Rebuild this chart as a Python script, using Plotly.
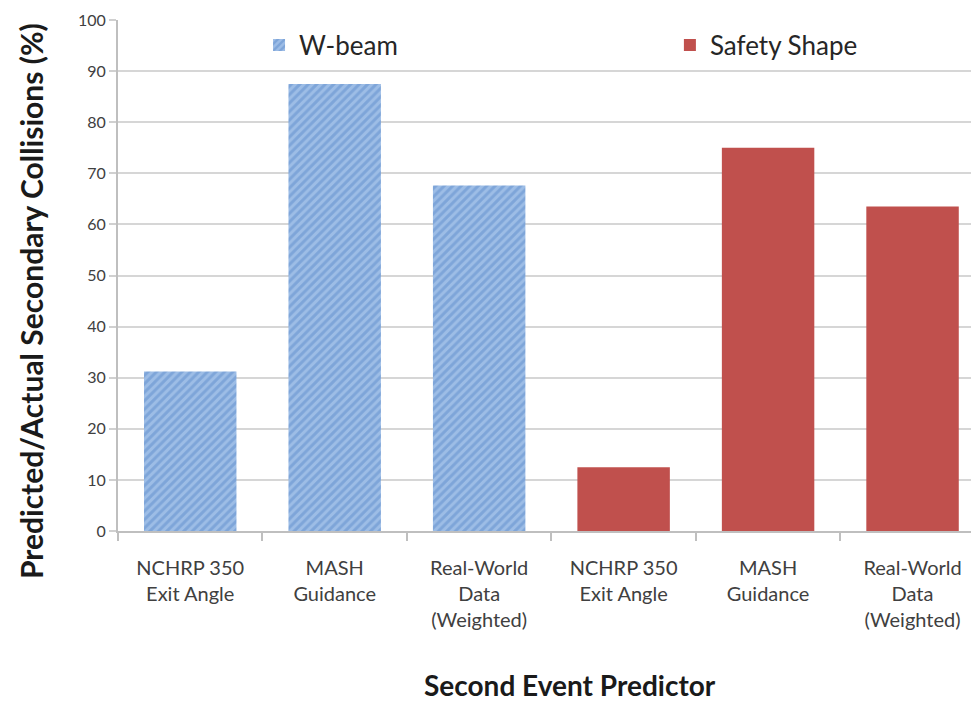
import plotly.graph_objects as go

categories = ["NCHRP 350<br>Exit Angle", "MASH<br>Guidance", "Real-World<br>Data<br>(Weighted)"]
wbeam_values = [31.2, 87.5, 67.6]
safety_values = [12.5, 75.0, 63.5]
y_ticks = list(range(0, 101, 10))
x_title = "Second Event Predictor"
y_title = "Predicted/Actual Secondary Collisions (%)"

x_w = [0, 1, 2]
x_s = [3, 4, 5]

font_family = "Lato, 'Open Sans', sans-serif"

fig = go.Figure()
fig.add_trace(go.Bar(
    x=x_w, y=wbeam_values, name="W-beam", width=0.64,
    marker=dict(color="#80A8DC", line=dict(width=0),
                pattern=dict(shape="/", fgcolor="#5F8DCB", bgcolor="#9DBDE6", size=6, solidity=0.5)),
    legend="legend",
))
fig.add_trace(go.Bar(
    x=x_s, y=safety_values, name="Safety Shape", width=0.64,
    marker=dict(color="#C0504D", line=dict(width=0)),
    legend="legend2",
))

fig.update_layout(
    width=979, height=702,
    margin=dict(l=110, r=8, t=12, b=179),
    plot_bgcolor="white", paper_bgcolor="white",
    font=dict(family=font_family, color="#404040"),
    showlegend=True,
    legend=dict(x=0.1638, y=0.951, xanchor="left", yanchor="middle",
                font=dict(size=26, color="#262626"), bgcolor="rgba(0,0,0,0)"),
    legend2=dict(x=0.641, y=0.951, xanchor="left", yanchor="middle",
                 font=dict(size=26, color="#262626"), bgcolor="rgba(0,0,0,0)"),
    annotations=[
        dict(text="<b>" + x_title + "</b>", xref="paper", yref="paper",
             x=0.525, y=-0.301, xanchor="center", yanchor="middle", showarrow=False,
             font=dict(size=28, color="#1a1a1a")),
        dict(text="<b>" + y_title + "</b>", xref="paper", yref="paper",
             x=-0.101, y=0.45, xanchor="center", yanchor="middle", showarrow=False,
             textangle=-90, font=dict(size=30, color="#1a1a1a")),
    ],
)
fig.update_xaxes(
    range=[-0.5, 5.46], automargin=False,
    tickmode="array", tickvals=x_w + x_s, ticktext=categories + categories,
    ticks="", tickfont=dict(size=20, color="#404040"), ticklabelstandoff=18,
    showline=True, linecolor="#BFBFBF", linewidth=2,
    showgrid=False, zeroline=False,
    minor=dict(ticks="outside", tick0=-0.5, dtick=1, ticklen=8, tickcolor="#BFBFBF", tickwidth=2, showgrid=False),
)
fig.update_yaxes(
    range=[0, 100], tickmode="array", tickvals=y_ticks, automargin=False,
    ticks="outside", ticklen=7, tickcolor="#D0D0D0", tickwidth=2,
    tickfont=dict(size=16, color="#404040"),
    showgrid=True, gridcolor="#D6D6D6", gridwidth=2,
    showline=True, linecolor="#BFBFBF", linewidth=2,
    zeroline=False,
)

fig.write_html("out.html")
